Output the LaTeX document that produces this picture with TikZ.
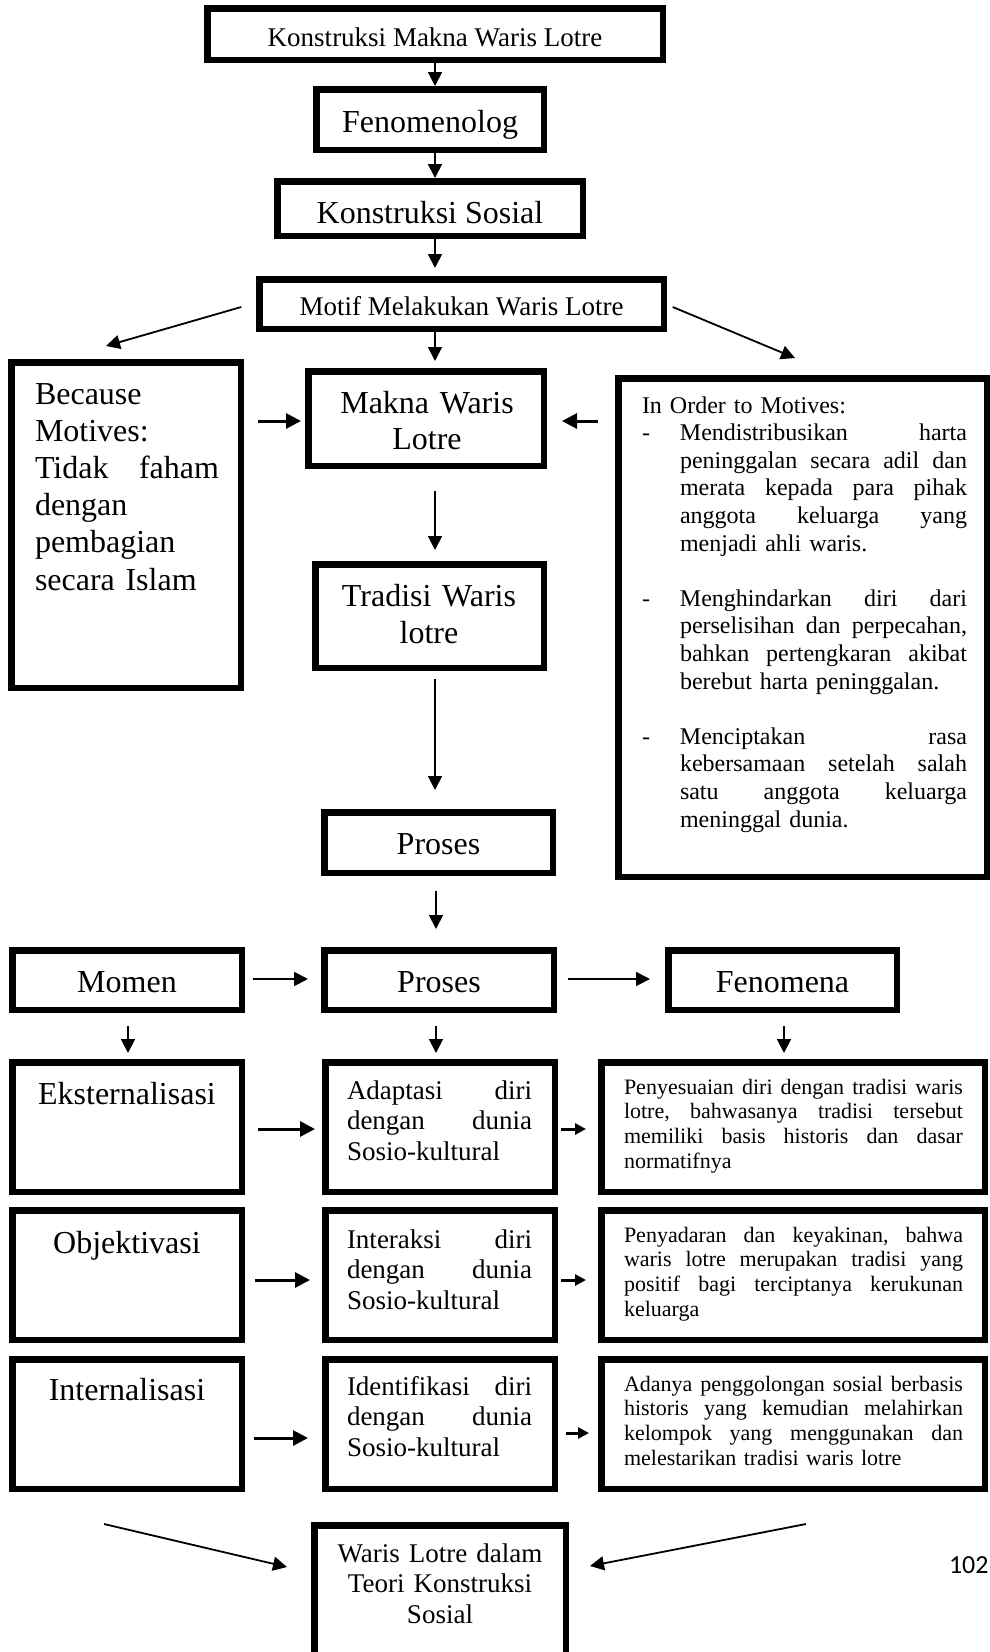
\documentclass[tikz,border=0pt]{standalone}
\usepackage{fontspec}
\setmainfont{Liberation Serif}
\newfontfamily\pagefont{Carlito}
\usetikzlibrary{arrows.meta}
\newcommand{\odash}{\makebox[38pt][l]{-}}
\newcommand{\oind}{\hspace*{38pt}}
\tikzset{
  box/.style={draw, line width=6.5pt, inner sep=0pt, outer sep=0pt},
  fbig/.style={font=\fontsize{32}{37}\selectfont},
  fmid/.style={font=\fontsize{27}{30.5}\selectfont},
  fsmall/.style={font=\fontsize{24}{27.6}\selectfont},
  ftiny/.style={font=\fontsize{22}{24.7}\selectfont},
  txt/.style={inner sep=0pt, outer sep=0pt},
  arr/.style={line width=1.8pt, -{Triangle[length=14pt,width=14pt]}},
  thickarr/.style={line width=3pt, -{Triangle[length=15pt,width=15pt]}},
  smallarr/.style={line width=3pt, -{Triangle[length=11pt,width=11pt]}},
}
\begin{document}
\begin{tikzpicture}[x=1pt,y=-1pt]
\useasboundingbox (0,0) rectangle (990,1652);
\clip (0,0) rectangle (990,1652);
\fill[white] (0,0) rectangle (990,1652);

% column coordinates
\coordinate (cx) at (435,0);
\coordinate (cxl) at (436,0);
\coordinate (c1) at (128,0);
\coordinate (c3) at (784,0);

% top chain
\node[box, minimum width=455.5pt, minimum height=51.5pt, fmid, text height=24pt, text depth=0pt] (b1) at (435,34) {Konstruksi Makna Waris Lotre};
\node[box, minimum width=227.5pt, minimum height=60.5pt, fbig, text height=25pt, text depth=0pt] (b2) at (430,119.5) {Fenomenolog};
\node[box, minimum width=305.5pt, minimum height=54.5pt, fbig, text height=29pt, text depth=0pt] (b3) at (430,208.5) {Konstruksi Sosial};
\node[box, minimum width=404.5pt, minimum height=49.5pt, fmid, text height=22pt, text depth=0pt] (b4) at (461.5,304) {Motif Melakukan Waris Lotre};

% middle section
\node[box, minimum width=229.5pt, minimum height=325.5pt] (bec) at (126,525) {};
\node[txt, fbig, font=\fontsize{32}{37.2}\selectfont, text width=184pt, align=left, anchor=base west] (bect) at (35,404)
  {Because\\Motives:\\Tidak\hfill faham\\dengan\\pembagian\\secara Islam};

\node[box, minimum width=235.5pt, minimum height=94.5pt] (mak) at (426,418.5) {};
\node[txt, fbig, font=\fontsize{32}{36}\selectfont, text width=235pt, align=center, anchor=base] (makt) at (427,413) {Makna Waris\\Lotre};

\node[box, minimum width=368.5pt, minimum height=498.5pt] (ord) at (802.5,627.5) {};
\node[txt, fsmall, text width=325pt, align=left, anchor=base west] (ordt) at (642,413)
  {In Order to Motives:\\
   \odash Mendistribusikan\hfill harta\\
   \oind peninggalan\hfill secara\hfill adil\hfill dan\\
   \oind merata\hfill kepada\hfill para\hfill pihak\\
   \oind anggota\hfill keluarga\hfill yang\\
   \oind menjadi ahli waris.\\[27.6pt]
   \odash Menghindarkan\hfill diri\hfill dari\\
   \oind perselisihan\hfill dan\hfill perpecahan,\\
   \oind bahkan\hfill pertengkaran\hfill akibat\\
   \oind berebut harta peninggalan.\\[27.6pt]
   \odash Menciptakan\hfill rasa\\
   \oind kebersamaan\hfill setelah\hfill salah\\
   \oind satu\hfill anggota\hfill keluarga\\
   \oind meninggal dunia.};

\node[box, minimum width=228.5pt, minimum height=103.5pt] (tra) at (429.5,616) {};
\node[txt, fbig, text width=228pt, align=center, anchor=base] (trat) at (429,606) {Tradisi Waris\\lotre};

\node[box, minimum width=228.5pt, minimum height=60.5pt, fbig, text height=23pt, text depth=0pt] (pr1) at (438.5,842.5) {Proses};

% header row
\node[box, minimum width=229.5pt, minimum height=59.5pt, fbig, text height=24pt, text depth=0pt] (mom) at (127,980) {Momen};
\node[box, minimum width=229.5pt, minimum height=59.5pt, fbig, text height=24pt, text depth=0pt] (pr2) at (439,980) {Proses};
\node[box, minimum width=228.5pt, minimum height=59.5pt, fbig, text height=24pt, text depth=0pt] (fen) at (782.5,980) {Fenomena};

% rows
\foreach \n/\y in {1/1127, 2/1275, 3/1424} {
  \node[box, minimum width=229.5pt, minimum height=129.5pt] (l\n) at (127,\y) {};
  \node[box, minimum width=229.5pt, minimum height=129.5pt] (m\n) at (440,\y) {};
  \node[box, minimum width=383.5pt, minimum height=129.5pt] (r\n) at (793,\y) {};
}
\node[txt, fbig, anchor=base] (lt1) at (127,1104) {Eksternalisasi};
\node[txt, fbig, anchor=base] (lt2) at (127,1253) {Objektivasi};
\node[txt, fbig, anchor=base] (lt3) at (127,1400) {Internalisasi};

\node[txt, fmid, text width=185pt, align=left, anchor=base west] (mt1) at (347,1099)
  {Adaptasi\hfill diri\\dengan\hfill dunia\\Sosio-kultural};
\node[txt, fmid, text width=185pt, align=left, anchor=base west] (mt2) at (347,1248)
  {Interaksi\hfill diri\\dengan\hfill dunia\\Sosio-kultural};
\node[txt, fmid, text width=185pt, align=left, anchor=base west] (mt3) at (347,1395)
  {Identifikasi\hfill diri\\dengan\hfill dunia\\Sosio-kultural};

\node[txt, ftiny, text width=339pt, align=left, anchor=base west] (rt1) at (624,1094)
  {Penyesuaian\hfill diri\hfill dengan\hfill tradisi\hfill waris\\
   lotre,\hfill bahwasanya\hfill tradisi\hfill tersebut\\
   memiliki\hfill basis\hfill historis\hfill dan\hfill dasar\\
   normatifnya};
\node[txt, ftiny, text width=339pt, align=left, anchor=base west] (rt2) at (624,1242)
  {Penyadaran\hfill dan\hfill keyakinan,\hfill bahwa\\
   waris\hfill lotre\hfill merupakan\hfill tradisi\hfill yang\\
   positif\hfill bagi\hfill terciptanya\hfill kerukunan\\
   keluarga};
\node[txt, ftiny, text width=339pt, align=left, anchor=base west] (rt3) at (624,1391)
  {Adanya\hfill penggolongan\hfill sosial\hfill berbasis\\
   historis\hfill yang\hfill kemudian\hfill melahirkan\\
   kelompok\hfill yang\hfill menggunakan\hfill dan\\
   melestarikan tradisi waris lotre};

% final box
\node[box, minimum width=251.5pt, minimum height=151.5pt] (fin) at (440,1601) {};
\node[txt, fmid, text width=250pt, align=center, anchor=base] (fint) at (440,1562)
  {Waris Lotre dalam\\Teori Konstruksi\\Sosial};

\node[txt, anchor=base west, font=\pagefont\fontsize{26}{28}\selectfont] (pg) at (949,1573) {102};

% ---------- connectors ----------
\draw[arr, shorten >=3.25pt] (b1.south -| cx) -- (b2.north -| cx);
\draw[arr, shorten <=3.25pt, shorten >=3.25pt] (b2.south -| cx) -- (b3.north -| cx);
\draw[arr, shorten <=3.25pt, shorten >=11.25pt] (b3.south -| cx) -- (b4.north -| cx);
\draw[arr, shorten <=3.25pt, shorten >=10.25pt] (b4.south -| cx) -- (mak.north -| cx);

\coordinate (dle) at (106,346);
\coordinate (dre) at (795,358);
\draw[arr] ([xshift=-18pt,yshift=-3pt]b4.west) -- (dle);
\draw[arr] ([xshift=9pt,yshift=-3pt]b4.east) -- (dre);

\coordinate (ry0) at (0,421);
\draw[thickarr, shorten <=17.25pt, shorten >=7.25pt] (bec.east |- ry0) -- (mak.west |- ry0);
\draw[thickarr, shorten <=20.25pt, shorten >=18.25pt] (ord.west |- ry0) -- (mak.east |- ry0);

\draw[arr, shorten <=25.25pt, shorten >=14.25pt] (mak.south -| cx) -- (tra.north -| cx);
\draw[arr, shorten <=11.25pt, shorten >=22.25pt] (tra.south -| cx) -- (pr1.north -| cx);
\draw[arr, shorten <=18.25pt, shorten >=21.25pt] (pr1.south -| cxl) -- (pr2.north -| cxl);

\coordinate (ry1) at (0,979);
\draw[arr, shorten <=11.25pt, shorten >=16.25pt] (mom.east |- ry1) -- (pr2.west |- ry1);
\draw[arr, shorten <=14.25pt, shorten >=18.25pt] (pr2.east |- ry1) -- (fen.west |- ry1);

\draw[arr, shorten <=16.25pt, shorten >=9.25pt] (mom.south -| c1) -- (l1.north -| c1);
\draw[arr, shorten <=16.25pt, shorten >=9.25pt] (pr2.south -| cxl) -- (m1.north -| cxl);
\draw[arr, shorten <=16.25pt, shorten >=9.25pt] (fen.south -| c3) -- (r1.north -| c3);

\coordinate (ya) at (0,1129);
\coordinate (yb) at (0,1280);
\coordinate (yc) at (0,1438);
\coordinate (yd) at (0,1433);
\draw[thickarr, shorten <=16.25pt, shorten >=10.25pt] (l1.east |- ya) -- (m1.west |- ya);
\draw[smallarr, shorten <=6.25pt, shorten >=15.25pt] (m1.east |- ya) -- (r1.west |- ya);
\draw[thickarr, shorten <=13.25pt, shorten >=15.25pt] (l2.east |- yb) -- (m2.west |- yb);
\draw[smallarr, shorten <=6.25pt, shorten >=15.25pt] (m2.east |- yb) -- (r2.west |- yb);
\draw[thickarr, shorten <=12.25pt, shorten >=17.25pt] (l3.east |- yc) -- (m3.west |- yc);
\draw[smallarr, shorten <=11.25pt, shorten >=12.25pt] (m3.east |- yd) -- (r3.west |- yd);

\coordinate (fls) at (104,1524);
\coordinate (fle) at (287,1567);
\coordinate (frs) at (806,1524);
\coordinate (fre) at (590,1566);
\draw[arr] (fls) -- (fle);
\draw[arr] (frs) -- (fre);
\end{tikzpicture}
\end{document}
